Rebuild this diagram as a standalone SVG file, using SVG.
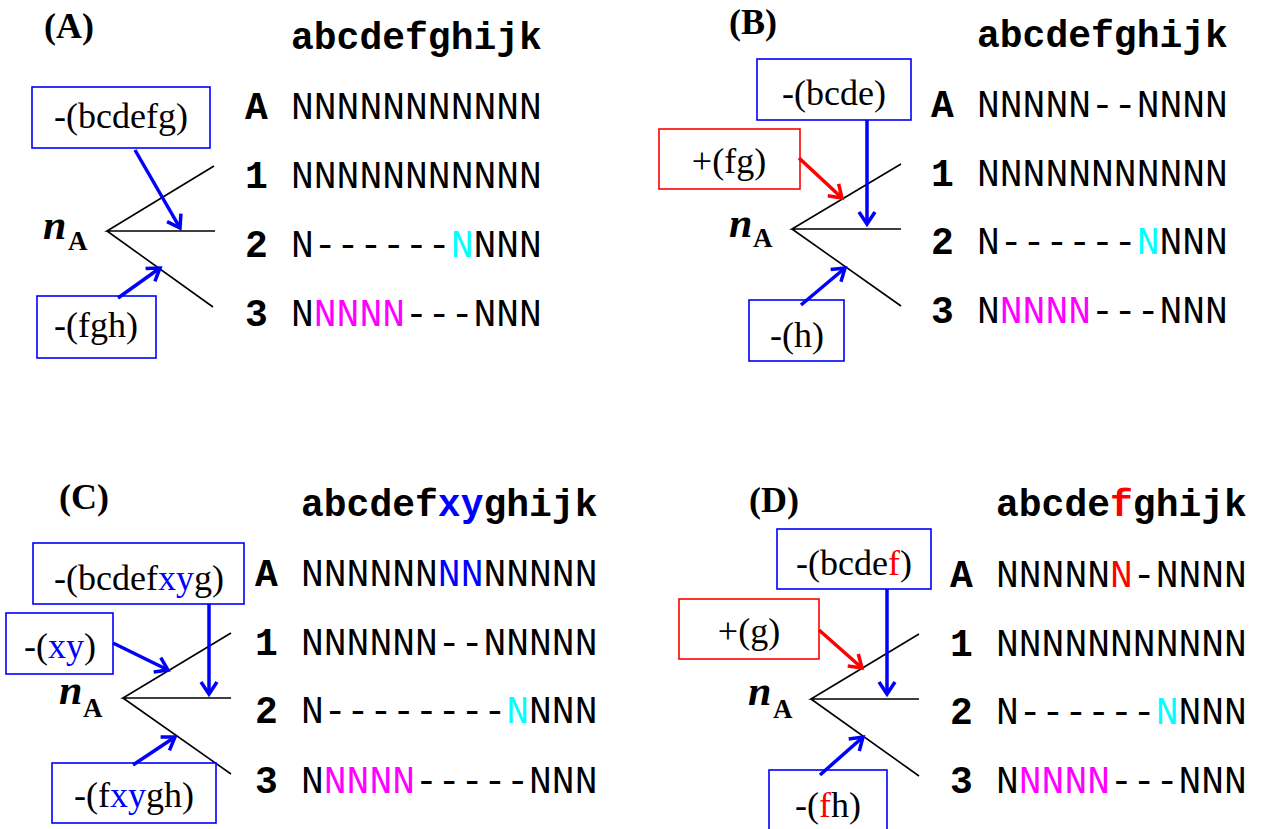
<svg xmlns="http://www.w3.org/2000/svg" width="1261" height="829" viewBox="0 0 1261 829">
<style>
.pl{font-family:"Liberation Serif","Times New Roman",serif;font-weight:bold;font-size:36px;fill:#000}
.hd{font-family:"Liberation Mono","Courier New",monospace;font-weight:bold;font-size:38px;fill:#000}
.lb{font-family:"Liberation Mono","Courier New",monospace;font-weight:bold;font-size:38px;fill:#000}
.sq{font-family:"Liberation Mono","Courier New",monospace;font-size:38px;fill:#000}
.bx{font-family:"Liberation Serif","Times New Roman",serif;font-size:36px;fill:#000;text-anchor:middle}
.nn{font-family:"Liberation Serif","Times New Roman",serif;font-weight:bold;font-style:italic;font-size:42px;fill:#000}
.ns{font-family:"Liberation Serif","Times New Roman",serif;font-weight:bold;font-size:27px;fill:#000}
.bb{fill:#fff;stroke:#0000ff;stroke-width:1.6}
.rb{fill:#fff;stroke:#ff0000;stroke-width:1.6}
.tr{stroke:#000;stroke-width:1.6;fill:none}
.ab{stroke:#0000ff;stroke-width:3.5;fill:none;marker-end:url(#mb)}
.ar{stroke:#ff0000;stroke-width:3.5;fill:none;marker-end:url(#mr)}
.cy{fill:#00ffff}.mg{fill:#ff00ff}.bl{fill:#0000ff}.rd{fill:#ff0000}
</style>
<defs>
<marker id="mb" markerUnits="userSpaceOnUse" viewBox="0 0 20 20" markerWidth="20" markerHeight="20" refX="16" refY="10" orient="auto">
<path d="M4,2 L16,10 L4,18" fill="none" stroke="#0000ff" stroke-width="3.5"/>
</marker>
<marker id="mr" markerUnits="userSpaceOnUse" viewBox="0 0 20 20" markerWidth="20" markerHeight="20" refX="16" refY="10" orient="auto">
<path d="M4,2 L16,10 L4,18" fill="none" stroke="#ff0000" stroke-width="3.5"/>
</marker>
</defs>
<rect width="1261" height="829" fill="#fff"/>

<!-- Panel A -->
<g id="panelA">
<text class="pl" x="44" y="38">(A)</text>
<text class="hd" x="291" y="49">abcdefghijk</text>
<g id="A-rowA"><text class="lb" x="245" y="119">A</text><text class="sq" x="291" y="119">NNNNNNNNNNN</text></g>
<g id="A-row1"><text class="lb" x="245" y="188">1</text><text class="sq" x="291" y="188">NNNNNNNNNNN</text></g>
<g id="A-row2"><text class="lb" x="245" y="257">2</text><text class="sq" x="291" y="257">N------<tspan class="cy">N</tspan>NNN</text></g>
<g id="A-row3"><text class="lb" x="245" y="326">3</text><text class="sq" x="291" y="326">N<tspan class="mg">NNNN</tspan>---NNN</text></g>
<g id="A-tree"><path class="tr" d="M214,166 L107,231 L215,231 M107,231 L213,307"/>
<text class="nn" x="43" y="239">n</text><text class="ns" x="68" y="250">A</text></g>
<g id="A-box1"><rect class="bb" x="32" y="87" width="178" height="61"/><text class="bx" x="121" y="128">-(bcdefg)</text></g>
<g id="A-box2"><rect class="bb" x="37" y="296" width="119" height="62"/><text class="bx" x="96" y="337">-(fgh)</text></g>
</g>

<!-- Panel B -->
<g id="panelB">
<text class="pl" x="729" y="34">(B)</text>
<text class="hd" x="977" y="47">abcdefghijk</text>
<g id="B-rowA"><text class="lb" x="931" y="117">A</text><text class="sq" x="977" y="117">NNNNN--NNNN</text></g>
<g id="B-row1"><text class="lb" x="931" y="186">1</text><text class="sq" x="977" y="186">NNNNNNNNNNN</text></g>
<g id="B-row2"><text class="lb" x="931" y="254">2</text><text class="sq" x="977" y="254">N------<tspan class="cy">N</tspan>NNN</text></g>
<g id="B-row3"><text class="lb" x="931" y="323">3</text><text class="sq" x="977" y="323">N<tspan class="mg">NNNN</tspan>---NNN</text></g>
<g id="B-tree"><path class="tr" d="M901,164 L792,229 L901,229 M792,229 L901,306"/>
<text class="nn" x="729" y="237">n</text><text class="ns" x="753" y="247">A</text></g>
<g id="B-box1"><rect class="bb" x="757" y="59" width="154" height="61"/><text class="bx" x="834" y="105">-(bcde)</text></g>
<g id="B-box2"><rect class="rb" x="659" y="129" width="141" height="60"/><text class="bx" x="729" y="173">+(fg)</text></g>
<g id="B-box3"><rect class="bb" x="749" y="300" width="95" height="61"/><text class="bx" x="797" y="347">-(h)</text></g>
</g>

<!-- Panel C -->
<g id="panelC">
<text class="pl" x="59" y="509">(C)</text>
<text class="hd" x="301" y="516">abcdef<tspan class="bl">xy</tspan>ghijk</text>
<g id="C-rowA"><text class="lb" x="255" y="586">A</text><text class="sq" x="301" y="586">NNNNNN<tspan class="bl">NN</tspan>NNNNN</text></g>
<g id="C-row1"><text class="lb" x="255" y="655">1</text><text class="sq" x="301" y="655">NNNNNN--NNNNN</text></g>
<g id="C-row2"><text class="lb" x="255" y="723">2</text><text class="sq" x="301" y="723">N--------<tspan class="cy">N</tspan>NNN</text></g>
<g id="C-row3"><text class="lb" x="255" y="793">3</text><text class="sq" x="301" y="793">N<tspan class="mg">NNNN</tspan>-----NNN</text></g>
<g id="C-tree"><path class="tr" d="M231,633 L123,698 L231,698 M123,698 L231,774"/>
<text class="nn" x="59" y="704">n</text><text class="ns" x="83" y="717">A</text></g>
<g id="C-box1"><rect class="bb" x="33" y="543" width="211" height="61"/><text class="bx" x="139" y="590">-(bcdef<tspan class="bl">xy</tspan>g)</text></g>
<g id="C-box2"><rect class="bb" x="6" y="613" width="107" height="61"/><text class="bx" x="60" y="658">-(<tspan class="bl">xy</tspan>)</text></g>
<g id="C-box3"><rect class="bb" x="52" y="763" width="164" height="60"/><text class="bx" x="134" y="807">-(f<tspan class="bl">xy</tspan>gh)</text></g>
</g>

<!-- Panel D -->
<g id="panelD">
<text class="pl" x="749" y="512">(D)</text>
<text class="hd" x="996" y="516">abcde<tspan class="rd">f</tspan>ghijk</text>
<g id="D-rowA"><text class="lb" x="950" y="587">A</text><text class="sq" x="996" y="587">NNNNN<tspan class="rd">N</tspan>-NNNN</text></g>
<g id="D-row1"><text class="lb" x="950" y="656">1</text><text class="sq" x="996" y="656">NNNNNNNNNNN</text></g>
<g id="D-row2"><text class="lb" x="950" y="724">2</text><text class="sq" x="996" y="724">N------<tspan class="cy">N</tspan>NNN</text></g>
<g id="D-row3"><text class="lb" x="950" y="793">3</text><text class="sq" x="996" y="793">N<tspan class="mg">NNNN</tspan>---NNN</text></g>
<g id="D-tree"><path class="tr" d="M919,634 L811,699 L919,699 M811,699 L919,776"/>
<text class="nn" x="748" y="705">n</text><text class="ns" x="773" y="718">A</text></g>
<g id="D-box1"><rect class="bb" x="777" y="529" width="154" height="60"/><text class="bx" x="854" y="575">-(bcde<tspan class="rd">f</tspan>)</text></g>
<g id="D-box2"><rect class="rb" x="679" y="599" width="140" height="60"/><text class="bx" x="749" y="643">+(g)</text></g>
<g id="D-box3"><rect class="bb" x="769" y="770" width="118" height="64"/><text class="bx" x="828" y="817">-(<tspan class="rd">f</tspan>h)</text></g>
</g>

<!-- Connectors -->
<g id="connectors">
<line class="ab" x1="135" y1="150" x2="180" y2="228"/>
<line class="ab" x1="118" y1="298" x2="160" y2="268"/>
<line class="ab" x1="867" y1="120" x2="867" y2="224"/>
<line class="ar" x1="799" y1="158" x2="842" y2="198"/>
<line class="ab" x1="801" y1="305" x2="845" y2="268"/>
<line class="ab" x1="209" y1="604" x2="209" y2="694"/>
<line class="ab" x1="113" y1="643" x2="168" y2="670"/>
<line class="ab" x1="133" y1="765" x2="175" y2="737"/>
<line class="ab" x1="887" y1="589" x2="887" y2="694"/>
<line class="ar" x1="819" y1="630" x2="862" y2="668"/>
<line class="ab" x1="820" y1="775" x2="863" y2="737"/>
</g>
</svg>
